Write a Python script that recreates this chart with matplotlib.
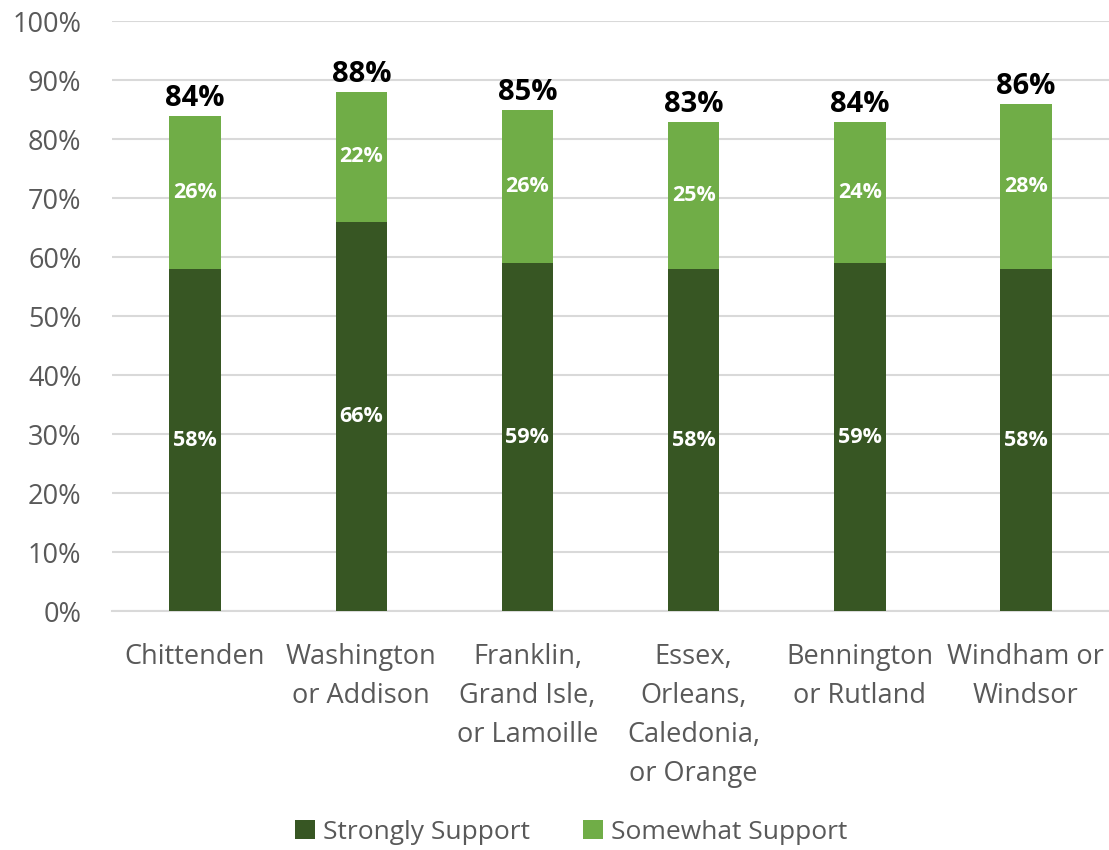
import numpy as np
import matplotlib.pyplot as plt

plt.rcParams['font.family'] = ['Open Sans', 'DejaVu Sans']

regions = ["Chittenden", "Washington\nor Addison", "Franklin,\nGrand Isle,\nor Lamoille",
           "Essex,\nOrleans,\nCaledonia,\nor Orange", "Bennington\nor Rutland", "Windham or\nWindsor"]
strongly = [58, 66, 59, 58, 59, 58]
somewhat = [26, 22, 26, 25, 24, 28]
totals = [84, 88, 85, 83, 84, 86]

dark = "#375623"
light = "#70AD47"

fig = plt.figure(figsize=(11.09, 8.5), dpi=100)
ax = fig.add_axes([0.101, 0.281, 0.899, 0.694])

x = np.arange(len(regions))
w = 0.31
b1 = ax.bar(x, strongly, w, color=dark, label="Strongly Support", zorder=3)
b2 = ax.bar(x, somewhat, w, bottom=strongly, color=light, label="Somewhat Support", zorder=3)

for i in range(len(regions)):
    ax.text(x[i], strongly[i] / 2, f"{strongly[i]}%", ha="center", va="center",
            color="white", fontsize=15.5, fontweight="bold", zorder=4)
    ax.text(x[i], strongly[i] + somewhat[i] / 2, f"{somewhat[i]}%", ha="center", va="center",
            color="white", fontsize=15.5, fontweight="bold", zorder=4)
    ax.text(x[i], strongly[i] + somewhat[i] + 0.5, f"{totals[i]}%", ha="center", va="bottom",
            color="black", fontsize=21, fontweight="bold", zorder=4)

ax.set_xlim(-0.5, len(regions) - 0.5)
ax.set_ylim(0, 100)
ax.set_yticks(range(0, 101, 10))
ax.set_yticklabels([f"{v}%" for v in range(0, 101, 10)])
ax.set_xticks(x)
ax.set_xticklabels(regions, linespacing=1.52)
ax.tick_params(axis="both", length=0, labelsize=19.5, colors="#595959")
ax.tick_params(axis="x", pad=23)
ax.tick_params(axis="y", pad=22)
ax.grid(axis="y", color="#D9D9D9", linewidth=1.5, zorder=0)
for s in ["top", "right", "left"]:
    ax.spines[s].set_visible(False)
ax.spines["bottom"].set_color("#D9D9D9")
ax.spines["bottom"].set_linewidth(1.5)

leg = fig.legend(handles=[b1, b2], loc="center", bbox_to_anchor=(0.515, 0.021), ncol=2,
                 frameon=False, fontsize=19, handlelength=0.75, handleheight=0.75,
                 handletextpad=0.3, columnspacing=2.0)
for t in leg.get_texts():
    t.set_color("#595959")

fig.savefig("out.png", dpi=100)
